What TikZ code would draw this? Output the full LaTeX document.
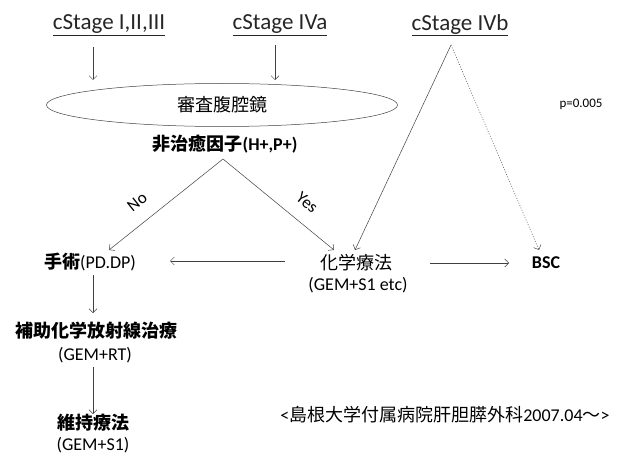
\documentclass[tikz,border=0pt]{standalone}
\usepackage{fontspec}
\setmainfont{Carlito}
\newfontfamily\jp{Noto Sans CJK JP}
\usetikzlibrary{arrows.meta,shapes.geometric}
\begin{document}
\begin{tikzpicture}[x=1pt,y=-1pt,
  stage/.style={font=\fontsize{23}{26}\selectfont, inner sep=0pt, text=black!85},
  lbl/.style={font=\fontsize{18}{20}\selectfont, inner sep=0pt, align=center, text=black},
  bl/.style={lbl, font=\fontsize{18}{20}\selectfont\bfseries},
  sm/.style={font=\fontsize{13}{15}\selectfont, inner sep=0pt},
  conn/.style={draw=black!75, line width=0.5pt, -{Straight Barb[length=4pt,width=8pt]}},
  dotconn/.style={conn, draw=black!70, dash pattern=on 1pt off 1.6pt},
  yn/.style={font=\fontsize{17}{19}\selectfont, inner sep=0pt, sloped, above=14pt, pos=0.645},
]
\useasboundingbox (0,0) rectangle (623,457);
% stages
\node[stage] (s1) at (109,25) {\underline{cStage I,II,III}};
\node[stage] (s2) at (280,25) {\underline{cStage IVa}};
\node[stage] (s3) at (460,25) {\underline{cStage IVb}};
% ellipse
\node[ellipse, draw=black!75, line width=0.5pt, minimum width=351pt, minimum height=43pt, inner sep=0pt] (ell) at (222,105) {};
\node[lbl] (ellt) at (222,105) {\jp 審査腹腔鏡};
\node[bl] (hi) at (225,144) {{\jp\bfseries 非治癒因子}(H+,P+)};
\node[lbl] (op) at (90,262) {{\jp\bfseries 手術}(PD.DP)};
\node[lbl] (chemo) at (356,263) {\jp 化学療法};
\node[lbl] (chemosub) at (358,285) {(GEM+S1 etc)};
\node[bl] (bsc) at (546,263) {BSC};
\node[sm] (pval) at (581,104) {p=0.005};
\node[lbl] (adj) at (96,331) {\jp\bfseries 補助化学放射線治療};
\node[lbl] (adjsub) at (95,355) {(GEM+RT)};
\node[lbl] (mnt) at (93,423) {\jp\bfseries 維持療法};
\node[lbl] (mntsub) at (93,445) {(GEM+S1)};
\node[lbl] (note) at (445,415) {<{\jp 島根大学付属病院肝胆膵外科}2007.04{\jp ～}>};
% coordinates
\coordinate (a1s) at (93,47);
\coordinate (a1e) at (93,80);
\coordinate (a2s) at (275,45);
\coordinate (a2e) at (275,80);
\coordinate (fork) at (223,159);
\coordinate (noend) at (109,250);
\coordinate (yesend) at (334,250);
\coordinate (apex) at (451,45);
\coordinate (ivbend) at (355,250);
\coordinate (bscend) at (539,250);
\coordinate (lfs) at (285,261);
\coordinate (lfe) at (170,261);
\coordinate (rts) at (430,263);
\coordinate (rte) at (509,263);
\coordinate (d1s) at (93,275);
\coordinate (d1e) at (93,313);
\coordinate (d2s) at (93,367);
\coordinate (d2e) at (93,414);
% connectors
\draw[conn] (a1s) -- (a1e);
\draw[conn] (a2s) -- (a2e);
\draw[conn] (fork) -- node[yn] (nolbl) {No} (noend);
\draw[conn] (fork) -- node[yn] (yeslbl) {Yes} (yesend);
\draw[conn] (apex) -- (ivbend);
\draw[dotconn] (apex) -- (bscend);
\draw[conn] (lfs) -- (lfe);
\draw[conn] (rts) -- (rte);
\draw[conn] (d1s) -- (d1e);
\draw[conn] (d2s) -- (d2e);
\end{tikzpicture}
\end{document}
